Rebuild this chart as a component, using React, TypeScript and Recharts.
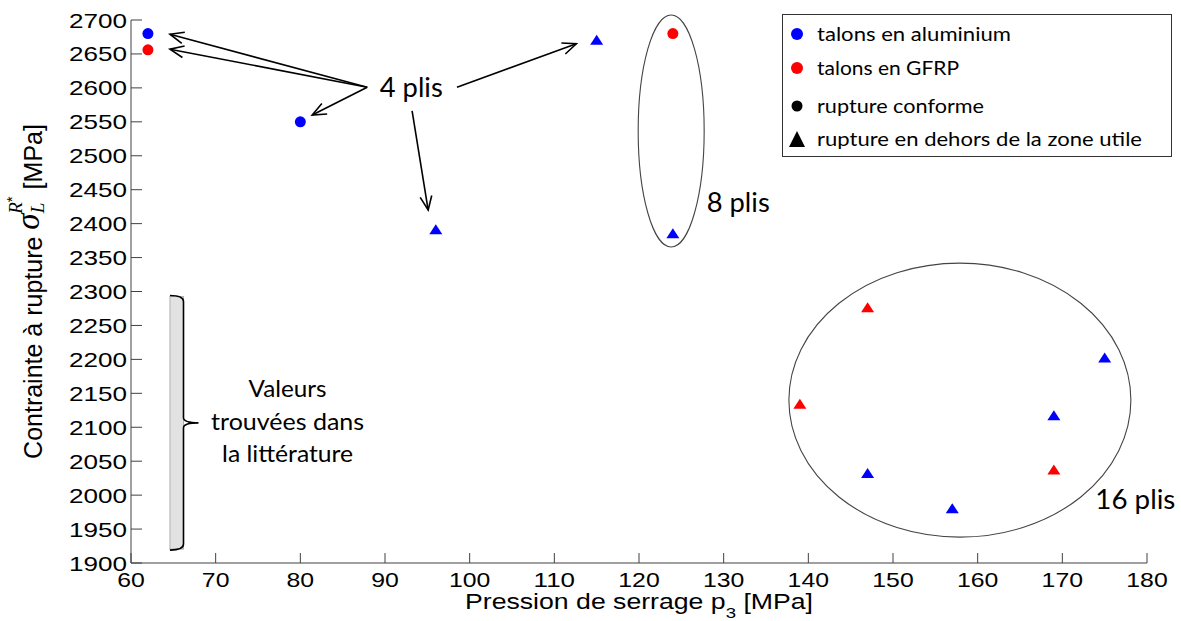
import React from 'react'
import {
  ScatterChart, Scatter, XAxis, YAxis,
  ReferenceLine, ReferenceDot, ReferenceArea,
} from 'recharts'

// axes
const pressionTicks = [60, 70, 80, 90, 100, 110, 120, 130, 140, 150, 160, 170, 180]
const contrainteTicks = [1900, 1950, 2000, 2050, 2100, 2150, 2200, 2250, 2300, 2350, 2400, 2450, 2500, 2550, 2600, 2650, 2700]

// p = pression de serrage (MPa), s = contrainte a rupture (MPa)
const aluConforme = [{ p: 62, s: 2680 }, { p: 80, s: 2550 }]
const gfrpConforme = [{ p: 62, s: 2656 }, { p: 124, s: 2680 }]
const aluHorsZone = [
  { p: 96, s: 2391 }, { p: 115, s: 2670 }, { p: 124, s: 2385 },
  { p: 147, s: 2032 }, { p: 157, s: 1980 }, { p: 169, s: 2117 }, { p: 175, s: 2202 },
]
const gfrpHorsZone = [{ p: 139, s: 2134 }, { p: 147, s: 2276 }, { p: 169, s: 2037 }]

// literature range
const litterature = { pMin: 64.6, pMax: 66.2, sMin: 1919, sMax: 2294 }

// arrows from "4 plis"
const fleches = [
  [{ x: 87.9, y: 2601 }, { x: 64.6, y: 2679 }],
  [{ x: 87.9, y: 2601 }, { x: 64.6, y: 2657 }],
  [{ x: 87.9, y: 2601 }, { x: 81.4, y: 2560 }],
  [{ x: 93.2, y: 2566 }, { x: 95.1, y: 2420 }],
  [{ x: 98.5, y: 2601 }, { x: 112.6, y: 2665 }],
]

const BLEU = '#0000ff'
const ROUGE = '#ff0000'
const AXE = '#404040'
const SANS = '"Liberation Sans", Arial, sans-serif'
const CALIBRI = 'Lato, "Open Sans", sans-serif'

const rond = (color: string) => (props: any) => (
  <circle cx={props.cx} cy={props.cy} r={5.5} fill={color} />
)

const triangle = (color: string) => (props: any) => {
  const { cx, cy } = props
  return <path d={`M${cx},${cy - 5.5} L${cx + 6.5},${cy + 4.5} L${cx - 6.5},${cy + 4.5} Z`} fill={color} />
}

const XTick = (props: any) => {
  const { x, y, payload } = props
  const txt = String(payload.value)
  return (
    <g>
      <line x1={x} y1={y} x2={x} y2={y - 10} stroke={AXE} />
      <text x={x} y={y + 24} textAnchor="middle" fontSize={21} fontFamily={SANS} fill="#000"
        textLength={txt.length * 13.8} lengthAdjust="spacingAndGlyphs">{txt}</text>
    </g>
  )
}

const YTick = (props: any) => {
  const { x, y, payload } = props
  const txt = String(payload.value)
  return (
    <g>
      <line x1={x} y1={y} x2={x + 11} y2={y} stroke={AXE} />
      <text x={x - 4} y={y + 7.5} textAnchor="end" fontSize={21} fontFamily={SANS} fill="#000"
        textLength={txt.length * 14.5} lengthAdjust="spacingAndGlyphs">{txt}</text>
    </g>
  )
}

const XLabel = (props: any) => {
  const vb = props.viewBox ?? { x: 131, y: 563, width: 1016, height: 58 }
  const cx = vb.x + vb.width / 2
  return (
    <g transform={`translate(${cx},${vb.y + 46}) scale(1.24,1)`}>
      <text x={0} y={0} textAnchor="middle" fontSize={21.5} fontFamily={SANS} fill="#000">
        Pression de serrage p<tspan fontSize={15} dy={9}>3</tspan><tspan dy={-9}> [MPa]</tspan>
      </text>
    </g>
  )
}

const YLabel = (props: any) => {
  const vb = props.viewBox ?? { x: 0, y: 20, width: 131, height: 543 }
  const cy = vb.y + vb.height / 2
  const serif = '"Liberation Serif", "DejaVu Serif", serif'
  return (
    <text transform={`translate(42,${cy}) rotate(-90)`} textAnchor="middle" fontSize={25} fontFamily={SANS} fill="#000">
      <tspan>Contrainte à rupture  </tspan>
      <tspan fontFamily={serif} fontStyle="italic" fontSize={33} dy={-3}>σ</tspan>
      <tspan fontFamily={serif} fontStyle="italic" fontSize={19} dy={5}>L</tspan>
      <tspan fontFamily={serif} fontStyle="italic" fontSize={19} dx={-11} dy={-22}>R</tspan>
      <tspan fontSize={15} dy={-5}>*</tspan>
      <tspan dy={25}>  [MPa]</tspan>
    </text>
  )
}

const Fleche = (props: any) => {
  const { x1, y1, x2, y2 } = props
  const a = Math.atan2(y2 - y1, x2 - x1)
  const len = 15
  const w = 0.4
  const ax = x2 - len * Math.cos(a - w)
  const ay = y2 - len * Math.sin(a - w)
  const bx = x2 - len * Math.cos(a + w)
  const by = y2 - len * Math.sin(a + w)
  return (
    <g>
      <line x1={x1} y1={y1} x2={x2} y2={y2} stroke="#000" strokeWidth={1.6} />
      <polyline points={`${ax},${ay} ${x2},${y2} ${bx},${by}`} fill="none" stroke="#000" strokeWidth={1.6} />
    </g>
  )
}

const ellipse = (rx: number, ry: number) => (props: any) => (
  <ellipse cx={props.cx} cy={props.cy} rx={rx} ry={ry} fill="none" stroke="#444" strokeWidth={1.1} />
)

const texte = (txt: string, size: number, width: number, anchor: 'start' | 'middle') => (props: any) => (
  <text x={props.cx} y={props.cy + size * 0.35} textAnchor={anchor} fontSize={size} fontFamily={CALIBRI} fill="#000"
    textLength={width} lengthAdjust="spacingAndGlyphs">{txt}</text>
)

const valeurs = (props: any) => {
  const { cx, cy } = props
  const lignes: [string, number, number][] = [
    ['Valeurs', -33, 78],
    ['trouvées dans', 0, 153],
    ['la littérature', 32, 131],
  ]
  return (
    <g>
      {lignes.map(([t, dy, w]) => (
        <text key={t} x={cx} y={cy + dy} textAnchor="middle" fontSize={23} fontFamily={CALIBRI} fill="#000"
          textLength={w} lengthAdjust="spacingAndGlyphs">{t}</text>
      ))}
    </g>
  )
}

const Accolade = (props: any) => {
  const { x, y, width, height } = props
  const r = x + width
  const mid = y + height / 2
  const b = y + height
  const d = `M${x},${y} Q${r},${y} ${r},${y + 6} L${r},${mid - 5} Q${r},${mid} ${r + 15},${mid} Q${r},${mid} ${r},${mid + 5} L${r},${b - 6} Q${r},${b} ${x},${b}`
  return (
    <g>
      <rect x={x} y={y + 1} width={width} height={height - 2} fill="#e2e2e2" stroke="#b0b0b0" strokeWidth={1} />
      <path d={d} fill="none" stroke="#000" strokeWidth={1.6} />
    </g>
  )
}

function Legende() {
  const items: { t: string; w: number; m: React.ReactNode; y: number }[] = [
    { t: 'talons en aluminium', w: 194, y: 19, m: <circle cx={14} cy={19} r={6} fill={BLEU} /> },
    { t: 'talons en GFRP', w: 142, y: 53, m: <circle cx={14} cy={53} r={6} fill={ROUGE} /> },
    { t: 'rupture conforme', w: 167, y: 91, m: <circle cx={14} cy={91} r={5.5} fill="#000" /> },
    { t: 'rupture en dehors de la zone utile', w: 325, y: 124, m: <path d="M14,116 L22,132 L6,132 Z" fill="#000" /> },
  ]
  return (
    <div style={{
      position: 'absolute', left: 782, top: 14, width: 390, height: 143, boxSizing: 'border-box',
      border: '1px solid #333', background: '#fff',
    }}>
      <svg width={388} height={141}>
        {items.map(it => (
          <g key={it.t}>
            {it.m}
            <text x={34} y={it.y + 7} fontSize={19.5} fontFamily={CALIBRI} fill="#000"
              textLength={it.w} lengthAdjust="spacingAndGlyphs">{it.t}</text>
          </g>
        ))}
      </svg>
    </div>
  )
}

export default function App() {
  return (
    <div style={{ position: 'absolute', left: 0, top: 0, width: 1181, height: 621, background: '#fff' }}>
      <ScatterChart width={1181} height={621} margin={{ top: 20, right: 34, bottom: 0, left: 0 }}>
        <XAxis type="number" dataKey="p" domain={[60, 180]} ticks={pressionTicks} interval={0}
          allowDataOverflow height={58} tickSize={0} tickMargin={0} tickLine={false}
          axisLine={{ stroke: AXE }} tick={<XTick />} label={<XLabel />} />
        <YAxis type="number" dataKey="s" domain={[1900, 2700]} ticks={contrainteTicks} interval={0}
          allowDataOverflow width={131} tickSize={0} tickMargin={0} tickLine={false}
          axisLine={{ stroke: AXE }} tick={<YTick />} label={<YLabel />} />

        <ReferenceArea x1={litterature.pMin} x2={litterature.pMax} y1={litterature.sMin} y2={litterature.sMax}
          shape={Accolade} ifOverflow="visible" />
        <ReferenceDot x={78.5} y={2096} shape={valeurs} ifOverflow="visible" />

        {fleches.map((seg, i) => (
          <ReferenceLine key={i} segment={seg} shape={Fleche} ifOverflow="visible" />
        ))}
        <ReferenceDot x={93.1} y={2600} shape={texte('4 plis', 27, 63, 'middle')} ifOverflow="visible" />

        <ReferenceDot x={123.8} y={2536.5} shape={ellipse(33, 116)} ifOverflow="visible" />
        <ReferenceDot x={128} y={2430} shape={texte('8 plis', 26, 63, 'start')} ifOverflow="visible" />

        <ReferenceDot x={157.9} y={2140} shape={ellipse(171, 137)} ifOverflow="visible" />
        <ReferenceDot x={173.9} y={1993} shape={texte('16 plis', 26, 80, 'start')} ifOverflow="visible" />

        <Scatter name="alu conforme" data={aluConforme} shape={rond(BLEU)} isAnimationActive={false} />
        <Scatter name="gfrp conforme" data={gfrpConforme} shape={rond(ROUGE)} isAnimationActive={false} />
        <Scatter name="alu hors zone" data={aluHorsZone} shape={triangle(BLEU)} isAnimationActive={false} />
        <Scatter name="gfrp hors zone" data={gfrpHorsZone} shape={triangle(ROUGE)} isAnimationActive={false} />
      </ScatterChart>
      <Legende />
    </div>
  )
}
